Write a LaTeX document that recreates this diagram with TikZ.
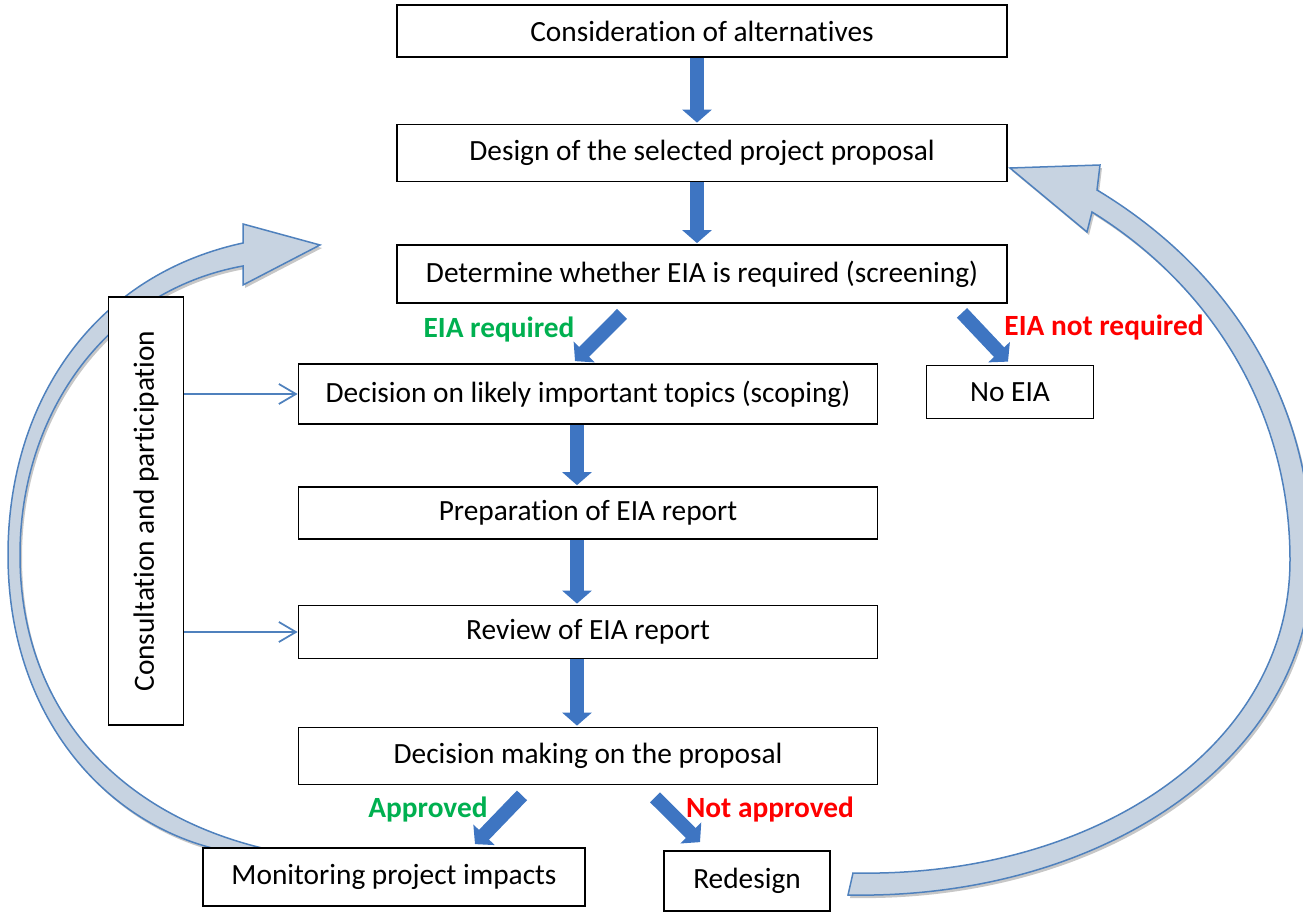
\documentclass[tikz,border=0pt]{standalone}
\usepackage{fontspec}
\setmainfont{Carlito}[Ligatures=CommonOff]
\usetikzlibrary{arrows.meta}
\definecolor{arrowblue}{RGB}{62,117,194}
\definecolor{lineblue}{RGB}{79,129,189}
\definecolor{loopfill}{RGB}{199,211,225}
\definecolor{okgreen}{RGB}{0,176,80}
\definecolor{ngred}{RGB}{255,0,0}
\tikzset{flowbox/.style={draw,line width=0.35mm,fill=white,inner sep=0pt,
    font=\fontsize{16.7pt}{20pt}\selectfont}}
\tikzset{blockarrow/.style={draw=arrowblue,line width=2.8mm,
    -{Triangle[length=2.6mm,width=5.8mm]}}}
\tikzset{feedarrow/.style={draw=lineblue,line width=0.35mm,
    -{Straight Barb[length=3.4mm,width=4mm]}}}
\tikzset{loopband/.style={fill=loopfill,draw=lineblue,line width=0.3mm,
    preaction={fill=black!22,transform canvas={shift={(0.4mm,-0.6mm)}}}}}
\tikzset{choice/.style={font=\fontsize{16.7pt}{20pt}\selectfont\bfseries}}

\begin{document}
\begin{tikzpicture}[x=0.2mm,y=-0.2mm]

\pgfmathsetmacro{\xtop}{702}
\pgfmathsetmacro{\xmid}{588}

\useasboundingbox (0,0) rectangle (1303,912);

% 左の循環矢印
\filldraw[loopband]
    (230,852)..controls(110,830) and (8,720)..(8,555)
    ..controls(8,400) and (95,275)..(243,243)
    -- (243,224) -- (320,245) -- (243,285) -- (243,266)
    ..controls(110,290) and (20,410)..(20,555)
    ..controls(20,710) and (120,820)..(280,852) -- cycle;

% 右の循環矢印
\filldraw[loopband]
    (848,895)..controls(1100,900) and (1312,760)..(1312,560)
    ..controls(1312,400) and (1230,270)..(1097,190)
    -- (1100,165) -- (1010,168) -- (1087,232) -- (1092,212)
    ..controls(1210,285) and (1290,410)..(1290,560)
    ..controls(1290,750) and (1090,878)..(853,873) -- cycle;

% 上の列
\node[flowbox,minimum width=122mm,minimum height=10.4mm]
    (alt) at (\xtop,31) {Consideration of alternatives};
\node[flowbox,minimum width=122mm,minimum height=11.4mm]
    (design) at (\xtop,153) {Design of the selected project proposal};
\node[flowbox,minimum width=122mm,minimum height=11.6mm]
    (screen) at (\xtop,274) {Determine whether EIA is required (screening)};

% 中央の列
\node[flowbox,minimum width=115.8mm,minimum height=12mm]
    (scope) at (\xmid,394) {Decision on likely important topics (scoping)};
\node[flowbox,minimum width=33.4mm,minimum height=10.6mm]
    (noeia) at (1010,392) {No EIA};
\node[flowbox,minimum width=115.8mm,minimum height=10.4mm]
    (prep) at (\xmid,513) {Preparation of EIA report};
\node[flowbox,minimum width=115.8mm,minimum height=10.6mm]
    (review) at (\xmid,632) {Review of EIA report};
\node[flowbox,minimum width=115.8mm,minimum height=11.4mm]
    (decide) at (\xmid,756) {Decision making on the proposal};

% 下の列
\node[flowbox,minimum width=76.4mm,minimum height=11.6mm]
    (monitor) at (394,877) {Monitoring project impacts};
\node[flowbox,minimum width=33.2mm,minimum height=12mm]
    (redesign) at (747,881) {Redesign};

% 協議と参加
\node[flowbox,rotate=90,minimum width=85.6mm,minimum height=15mm]
    (consult) at (146,511) {Consultation and participation};

% ブロック矢印
\draw[blockarrow] ([shift={(-5,0)}]alt.south) -- ([shift={(-5,-1)}]design.north);
\draw[blockarrow] ([shift={(-5,0)}]design.south) -- ([shift={(-5,-1)}]screen.north);
\draw[blockarrow] ([shift={(-80,10)}]screen.south) -- ([shift={(-13,-2)}]scope.north);
\draw[blockarrow] ([shift={(260,9)}]screen.south) -- ([shift={(-2,-3)}]noeia.north);
\draw[blockarrow] ([shift={(-11,0)}]scope.south) -- ([shift={(-11,-1)}]prep.north);
\draw[blockarrow] ([shift={(-11,0)}]prep.south) -- ([shift={(-11,-1)}]review.north);
\draw[blockarrow] ([shift={(-11,0)}]review.south) -- ([shift={(-11,-1)}]decide.north);
\draw[blockarrow] ([shift={(-66,10)}]decide.south) -- ([shift={(81,-3)}]monitor.north);
\draw[blockarrow] ([shift={(67,12)}]decide.south) -- ([shift={(-47,-8)}]redesign.north);

% 判定ラベル
\node[choice,text=okgreen] (req) at (499,330) {EIA required};
\node[choice,text=ngred] (notreq) at (1104,328) {EIA not required};
\node[choice,text=okgreen] (ok) at (428,810) {Approved};
\node[choice,text=ngred] (notok) at (770,810) {Not approved};

% 協議からの矢印
\draw[feedarrow] (consult.south |- scope.west) -- (scope.west);
\draw[feedarrow] (consult.south |- review.west) -- (review.west);

\end{tikzpicture}
\end{document}
